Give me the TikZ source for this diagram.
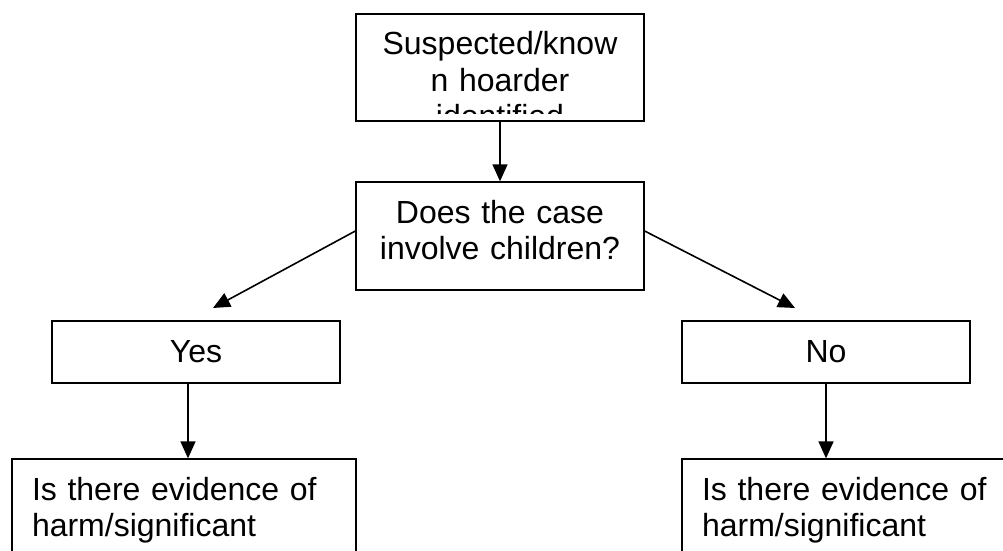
\documentclass[tikz,border=0pt]{standalone}
\usepackage{fontspec}
\setmainfont{Liberation Sans}
\usetikzlibrary{arrows.meta,positioning}

\begin{document}
\begin{tikzpicture}[x=1pt,y=1pt,
  box/.style={draw,line width=1.3pt,inner xsep=0pt,inner ysep=0pt,
    text height=41pt,font=\fontsize{32}{36.5}\selectfont},
  centrebox/.style={box,align=center,text width=288pt},
  leftbox/.style={box,align=left,inner xsep=20pt},
  arr/.style={-{Triangle[width=15pt,length=17pt]},line width=1.6pt}]

  \useasboundingbox (0,0) rectangle (1003,550);
  \clip (0,0) rectangle (1003,550);

  \node[draw,line width=1.3pt,minimum width=288pt,minimum height=107pt] (known) at (500,482.5) {};
  \begin{scope}
    \clip (known.north west) rectangle ([yshift=8pt]known.south east);
    \node[centrebox,draw=none,anchor=north] (knowntext) at (known.north) {Suspected/know\\n hoarder\\identified};
  \end{scope}

  \node[centrebox,text depth=67pt] (ask) at (500,314) {Does the case\\involve children?};
  \node[centrebox,text depth=21pt] (yes) at (196,198) {Yes};
  \node[centrebox,text depth=21pt] (no) at (826,198) {No};
  \node[leftbox,text width=304pt,text depth=109pt] (evidL) at (184,16) {Is there evidence of\\harm/significant};
  \node[leftbox,text width=318pt,text depth=109pt] (evidR) at (861,16) {Is there evidence of\\harm/significant};

  \coordinate (yestip) at (213,242);
  \coordinate (notip) at (795,242);

  \draw[arr] (known.south) -- (ask.north);
  \draw[arr] ([yshift=5pt]ask.west) -- (yestip);
  \draw[arr] ([yshift=5pt]ask.east) -- (notip);
  \draw[arr] ([xshift=-8pt]yes.south) -- ([xshift=-8pt]yes.south |- evidL.north);
  \draw[arr] (no.south) -- (no.south |- evidR.north);

\end{tikzpicture}
\end{document}
